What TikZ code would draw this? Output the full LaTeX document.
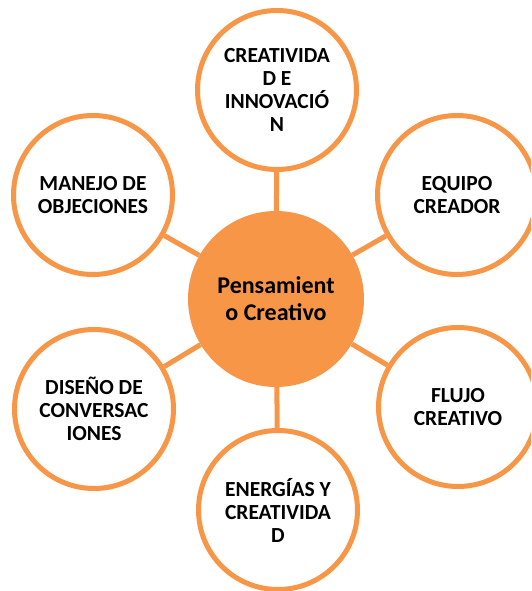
\documentclass[tikz,border=0pt]{standalone}
\usepackage{fontspec}
\setmainfont{Carlito}
\definecolor{accent}{HTML}{F79646}
\begin{document}
\begin{tikzpicture}[x=1pt,y=-1pt,
  outer/.style={circle,draw=accent,line width=5pt,fill=white,minimum size=159pt,inner sep=0pt,align=center,
    font=\bfseries\fontsize{21.5}{23}\selectfont,text=black},
  hub/.style={circle,fill=accent,minimum size=176pt,inner sep=0pt,align=center,
    font=\bfseries\fontsize{24}{27}\selectfont,text=black},
  link/.style={draw=accent,line width=5pt}]
\useasboundingbox (0,0) rectangle (531,591);
\clip (0,0) rectangle (531,591);
\node[hub] (c) at (276,299) {Pensamient\\o Creativo};
\node[outer] (t) at (277,90) {CREATIVIDA\\D E\\INNOVACIÓ\\N};
\node[outer] (tr) at (457,195) {EQUIPO\\CREADOR};
\node[outer] (tl) at (93,195) {MANEJO DE\\OBJECIONES};
\node[outer] (bl) at (94,409) {DISEÑO DE\\CONVERSAC\\IONES};
\node[outer] (br) at (458,407) {FLUJO\\CREATIVO};
\node[outer] (b) at (278,510) {ENERGÍAS Y\\CREATIVIDA\\D};
\foreach \n in {t,tr,tl,bl,br,b} \draw[link] (c) -- (\n);
\end{tikzpicture}
\end{document}
